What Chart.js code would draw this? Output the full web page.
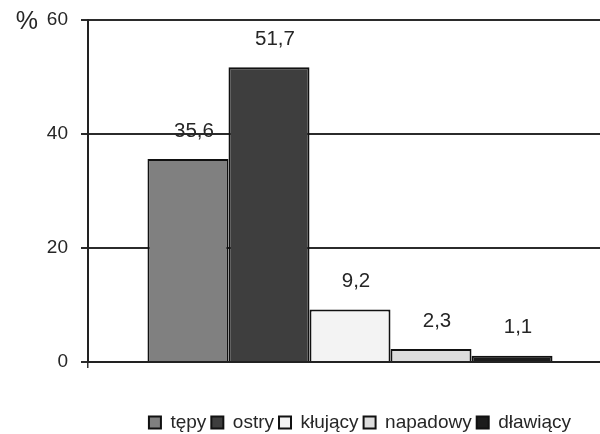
<!DOCTYPE html>
<html>
<head>
<meta charset="utf-8">
<script src="https://cdn.jsdelivr.net/npm/chart.js@4/dist/chart.umd.min.js"></script>
<style>
  html, body { margin: 0; padding: 0; background: #fff; overflow: hidden; }
  #wrap { width: 612px; height: 442px; }
</style>
</head>
<body>
<div id="wrap"><canvas id="c" width="612" height="442"></canvas></div>
<script>
// Pain character categories and their share of patients (%)
const categories = ['tępy', 'ostry', 'kłujący', 'napadowy', 'dławiący'];
const shares = [35.6, 51.7, 9.2, 2.3, 1.1];
const yTicks = [0, 20, 40, 60];
const unitLabel = '%';

const fills = ['#808080', '#3e3e3e', '#f3f3f3', '#dddddd', '#1c1c1c'];
const FONT = '"Liberation Sans", Arial, sans-serif';
const TEXT = '#262626';

// Writes each bar's value above it, with a decimal comma
const valueLabels = {
  id: 'valueLabels',
  afterDatasetsDraw(chart) {
    const ctx = chart.ctx;
    ctx.save();
    ctx.font = '20.5px ' + FONT;
    ctx.fillStyle = TEXT;
    ctx.textAlign = 'center';
    ctx.textBaseline = 'middle';
    chart.data.datasets.forEach((ds, i) => {
      const meta = chart.getDatasetMeta(i);
      meta.data.forEach((bar, j) => {
        const v = ds.data[j];
        ctx.fillText(String(v).replace('.', ','), bar.x + 6, bar.y - 28);
      });
    });
    ctx.restore();
  }
};

// Unit sign placed to the left of the top tick label
const unitSign = {
  id: 'unitSign',
  afterDraw(chart) {
    const y = chart.scales.y;
    const ctx = chart.ctx;
    const topTick = yTicks[yTicks.length - 1];
    ctx.save();
    ctx.font = '19px ' + FONT;
    const tickW = ctx.measureText(String(topTick)).width;
    const rightOfLabel = y.right - 7 - 13;
    ctx.font = '25px ' + FONT;
    ctx.fillStyle = TEXT;
    ctx.textAlign = 'right';
    ctx.textBaseline = 'middle';
    ctx.fillText(unitLabel, rightOfLabel - tickW - 9, y.getPixelForValue(topTick) + 2);
    ctx.restore();
  }
};

// Nudges the legend row a little to the right of the plot centre
const legendNudge = {
  id: 'legendNudge',
  afterLayout(chart) {
    if (chart.legend) {
      chart.legend.left += 10;
      chart.legend.right += 10;
    }
  }
};

new Chart(document.getElementById('c'), {
  type: 'bar',
  data: {
    labels: [''],
    datasets: categories.map((name, i) => ({
      label: name,
      data: [shares[i]],
      backgroundColor: fills[i],
      borderColor: '#111',
      borderWidth: 2
    }))
  },
  options: {
    responsive: false,
    animation: false,
    devicePixelRatio: 1,
    layout: { padding: { top: 20, right: 0, bottom: 0, left: 0 } },
    datasets: { bar: { barPercentage: 1, categoryPercentage: 0.773 } },
    plugins: {
      tooltip: { enabled: false },
      legend: {
        position: 'bottom',
        fullSize: false,
        labels: {
          boxWidth: 12,
          boxHeight: 12,
          padding: 5,
          color: TEXT,
          font: { family: FONT, size: 19 }
        }
      }
    },
    scales: {
      x: {
        afterFit(scale) { scale.height = 46; },
        grid: { drawOnChartArea: false, drawTicks: true, tickLength: 6, color: '#333', lineWidth: 1.5 },
        border: { color: '#222', width: 2 },
        ticks: { display: false }
      },
      y: {
        min: 0,
        max: 60,
        afterFit(scale) {
          scale.width = 88;
          scale.paddingTop = 0;
          scale.paddingBottom = 0;
        },
        afterBuildTicks(scale) { scale.ticks = yTicks.map(v => ({ value: v })); },
        grid: { color: '#2b2b2b', lineWidth: 2, tickLength: 7 },
        border: { color: '#222', width: 2 },
        ticks: {
          padding: 13,
          color: TEXT,
          font: { family: FONT, size: 19 }
        }
      }
    }
  },
  plugins: [valueLabels, unitSign, legendNudge]
});
</script>
</body>
</html>
